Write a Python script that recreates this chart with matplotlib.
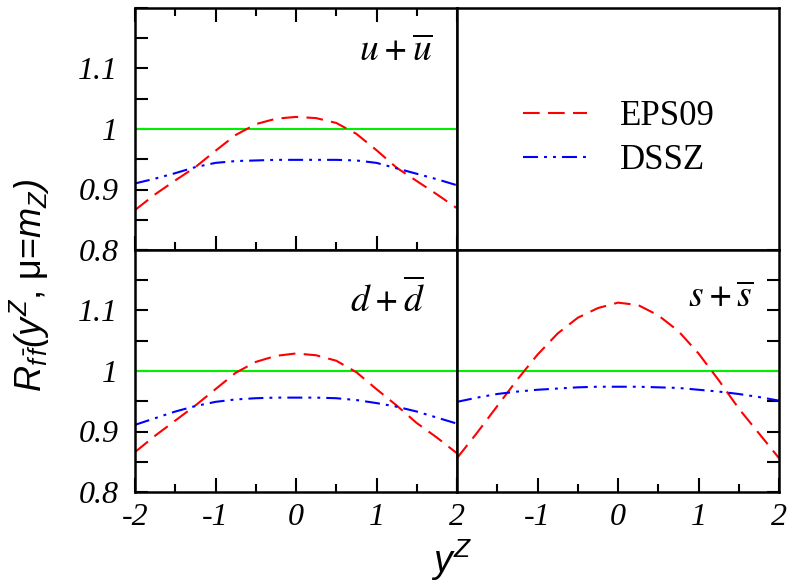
import matplotlib
matplotlib.use('Agg')
import matplotlib.pyplot as plt
from matplotlib.ticker import MultipleLocator, FixedLocator

# ---------------- data ----------------
rapidity = [-2.0, -1.75, -1.5, -1.25, -1.0, -0.75, -0.5, -0.25, 0.0,
            0.25, 0.5, 0.75, 1.0, 1.25, 1.5, 1.75, 2.0]

eps09_u = [0.866, 0.892, 0.915, 0.937, 0.964, 0.990, 1.008, 1.017, 1.020,
           1.018, 1.010, 0.992, 0.965, 0.936, 0.914, 0.892, 0.869]
dssz_u = [0.910, 0.918, 0.927, 0.937, 0.944, 0.947, 0.948, 0.949, 0.949,
          0.949, 0.949, 0.948, 0.944, 0.935, 0.926, 0.917, 0.907]

eps09_d = [0.866, 0.893, 0.918, 0.943, 0.970, 0.997, 1.015, 1.025, 1.029,
           1.026, 1.017, 0.998, 0.970, 0.943, 0.914, 0.890, 0.864]
dssz_d = [0.911, 0.922, 0.933, 0.942, 0.949, 0.953, 0.955, 0.956, 0.956,
          0.956, 0.955, 0.952, 0.947, 0.941, 0.933, 0.923, 0.913]

eps09_s = [0.856, 0.898, 0.942, 0.986, 1.027, 1.062, 1.088, 1.104, 1.113,
           1.109, 1.092, 1.066, 1.029, 0.985, 0.938, 0.897, 0.856]
dssz_s = [0.949, 0.956, 0.962, 0.966, 0.969, 0.971, 0.973, 0.974, 0.974,
          0.974, 0.973, 0.972, 0.969, 0.966, 0.962, 0.957, 0.951]

ref_x = [-2.0, 2.0]
ref_y = [1.0, 1.0]

panel_labels = [r'$u\,{+}\,\overline{u}$', r'$d\,{+}\,\overline{d}$', r'$s\,{+}\,\overline{s}$']
series_names = ['EPS09', 'DSSZ']

ytick_vals = [0.8, 0.9, 1.0, 1.1]
ytick_labels = ['0.8', '0.9', '1', '1.1']
xtick_vals = [-2, -1, 0, 1, 2]
xtick_labels_left = ['-2', '-1', '0', '1', '2']
xtick_labels_right = ['', '-1', '0', '1', '2']

# ---------------- style ----------------
plt.rcParams['font.family'] = 'Liberation Serif'
plt.rcParams['font.style'] = 'italic'
plt.rcParams['mathtext.fontset'] = 'custom'
plt.rcParams['mathtext.rm'] = 'Liberation Sans'
plt.rcParams['mathtext.it'] = 'Liberation Sans:italic'
plt.rcParams['axes.unicode_minus'] = False

W, H = 788, 585
fig = plt.figure(figsize=(W / 100, H / 100), dpi=100)

xl, xm, xr = 135 / W, 457 / W, 779 / W
yt, ym, yb = 1 - 8 / H, 1 - 250 / H, 1 - 492 / H

ax_ul = fig.add_axes([xl, ym, xm - xl, yt - ym])
ax_ur = fig.add_axes([xm, ym, xr - xm, yt - ym])
ax_dl = fig.add_axes([xl, yb, xm - xl, ym - yb])
ax_sr = fig.add_axes([xm, yb, xr - xm, ym - yb])

red = '#ff0000'
blue = '#0000ff'
green = '#00ee00'
lw = 1.5
eps_dash = (8, 4)
dssz_dash = (7.2, 2.9, 1.4, 2.9, 1.4, 2.9)

lab_pos = [(0.926, 0.781), (0.901, 0.745), (0.920, 0.766)]
handles = None
for ax, e, d, lab, pos in [(ax_ul, eps09_u, dssz_u, panel_labels[0], lab_pos[0]),
                           (ax_dl, eps09_d, dssz_d, panel_labels[1], lab_pos[1]),
                           (ax_sr, eps09_s, dssz_s, panel_labels[2], lab_pos[2])]:
    ax.plot(ref_x, ref_y, color=green, lw=lw, solid_capstyle='butt')
    l1, = ax.plot(rapidity, e, color=red, lw=lw, dashes=eps_dash, label=series_names[0])
    l2, = ax.plot(rapidity, d, color=blue, lw=lw, dashes=dssz_dash, label=series_names[1])
    handles = [l1, l2]
    ax.text(pos[0], pos[1], lab, transform=ax.transAxes, ha='right', va='baseline',
            fontsize=27, math_fontfamily='stix')

for ax in [ax_ul, ax_ur, ax_dl, ax_sr]:
    ax.set_xlim(-2, 2)
    ax.set_ylim(0.8, 1.2)
    for s in ax.spines.values():
        s.set_linewidth(1.8)
    ax.xaxis.set_major_locator(FixedLocator(xtick_vals))
    ax.xaxis.set_minor_locator(MultipleLocator(0.5))
    ax.yaxis.set_major_locator(FixedLocator(ytick_vals))
    ax.yaxis.set_minor_locator(MultipleLocator(0.05))
    ax.tick_params(which='both', direction='in', width=1.5, labelsize=23,
                   left=False, right=False, top=False, bottom=False,
                   labelleft=False, labelbottom=False)
    ax.tick_params(axis='x', which='major', length=10, pad=8)
    ax.tick_params(axis='x', which='minor', length=5.5)
    ax.tick_params(axis='y', which='both', length=9, pad=12)

# top-left: ticks left, top, bottom
ax_ul.tick_params(which='both', left=True, top=True, bottom=True, labelleft=True)
ax_ul.set_yticklabels(ytick_labels)
# bottom-left: left, bottom with labels
ax_dl.tick_params(which='both', left=True, bottom=True, labelleft=True, labelbottom=True)
ax_dl.set_yticklabels(ytick_labels)
ax_dl.set_xticklabels(xtick_labels_left)
# bottom-right: bottom, right
ax_sr.tick_params(which='both', right=True, bottom=True, labelbottom=True)
ax_sr.set_xticklabels(xtick_labels_right)

leg = ax_ur.legend(handles=handles, labels=series_names, loc='center left',
                   bbox_to_anchor=(0.205, 0.459), frameon=False,
                   borderpad=0, borderaxespad=0, handlelength=1.85,
                   handletextpad=0.95, labelspacing=0.32,
                   prop={'family': 'Liberation Serif', 'style': 'normal', 'size': 25})

fig.text(30 / W, 1 - 285 / H, r'$R_{f\,\bar{f}}(y^Z$, μ=$m_Z)$', rotation=90,
         ha='center', va='center', fontsize=26, family='Liberation Sans', style='normal')
fig.text(452 / W, 0.003, r'$y^Z$', ha='center', va='bottom', fontsize=27,
         family='Liberation Sans', style='normal')

fig.savefig('out.png', dpi=100)
